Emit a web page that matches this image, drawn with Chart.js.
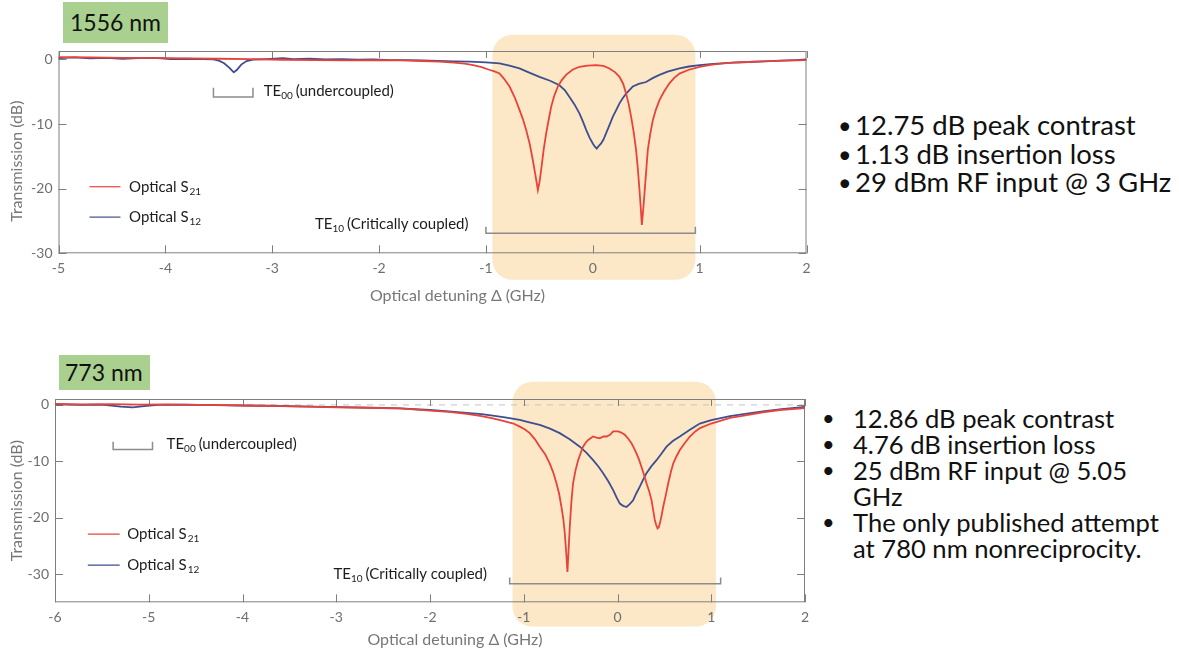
<!DOCTYPE html>
<html>
<head>
<meta charset="utf-8">
<script src="https://cdn.jsdelivr.net/npm/chart.js@4.4.1/dist/chart.umd.min.js"></script>
<style>
  body { margin: 0; width: 1179px; height: 654px; background: #fff; position: relative; overflow: hidden; font-family: Lato, "Noto Sans", sans-serif; }
  canvas { position: absolute; left: 0; }
  .tag { position: absolute; background: #a9d08e; color: #111; font-size: 23px; box-sizing: border-box; white-space: nowrap; }
  .notes { position: absolute; color: #111; white-space: nowrap; }
  .notes p { margin: 0; position: relative; }
  .notes p.b::before { content: "\2022"; position: absolute; font-size: 0.85em; }
  #notesTop p.b::before { left: -17px; }
  #notesBottom p.b::before { left: -31px; }
</style>
</head>
<body>

<div class="tag" style="left:63px; top:2px; width:105px; height:41px; line-height:41px; padding-left:7px;">1556 nm</div>
<canvas id="chartTop" width="820" height="312" style="top:0px;"></canvas>

<div class="tag" style="left:59px; top:355px; width:91px; height:35px; line-height:35px; padding-left:6px;">773 nm</div>
<canvas id="chartBottom" width="820" height="324" style="top:330px;"></canvas>

<div class="notes" id="notesTop" style="left:855px; top:111px; font-size:27.5px; line-height:28.5px;">
  <p class="b">12.75 dB peak contrast</p>
  <p class="b">1.13 dB insertion loss</p>
  <p class="b">29 dBm RF input @ 3 GHz</p>
</div>

<div class="notes" id="notesBottom" style="left:853px; top:405px; font-size:25.6px; line-height:26px;">
  <p class="b">12.86 dB peak contrast</p>
  <p class="b">4.76 dB insertion loss</p>
  <p class="b">25 dBm RF input @ 5.05</p>
  <p>GHz</p>
  <p class="b">The only published attempt</p>
  <p>at 780 nm nonreciprocity.</p>
</div>

<script>
// 1556 nm sweep: detuning (GHz) and transmission (dB)
const topS21X = [-5, -4.7, -4.4, -4.1, -3.8, -3.5, -3.2, -2.9, -2.6, -2.3, -2.0, -1.8, -1.6, -1.43, -1.3, -1.2, -1.12, -1.04, -0.97, -0.92, -0.873, -0.83, -0.779, -0.73, -0.686, -0.655, -0.624, -0.59, -0.561, -0.538, -0.514, -0.498, -0.483, -0.46, -0.436, -0.41, -0.389, -0.36, -0.327, -0.29, -0.25, -0.19, -0.124, -0.05, 0.031, 0.1, 0.156, 0.21, 0.25, 0.285, 0.312, 0.337, 0.359, 0.383, 0.405, 0.422, 0.437, 0.449, 0.459, 0.471, 0.484, 0.5, 0.515, 0.538, 0.562, 0.59, 0.624, 0.67, 0.717, 0.76, 0.811, 0.9, 1.0, 1.1, 1.2, 1.31, 1.45, 1.6, 1.8, 2.0];
const topS21Y = [0.35, 0.3, 0.25, 0.25, 0.15, 0.1, 0.05, -0.05, -0.1, -0.15, -0.1, -0.15, -0.25, -0.35, -0.5, -0.65, -0.9, -1.2, -1.6, -1.85, -2.17, -3.0, -4.2, -5.9, -7.8, -9.2, -10.9, -13.1, -15.6, -17.8, -20.2, -18.9, -17.1, -14.0, -11.4, -9.1, -7.3, -5.6, -4.2, -3.2, -2.4, -1.6, -1.14, -0.95, -0.88, -1.0, -1.4, -2.0, -2.7, -3.8, -5.3, -7.0, -8.9, -11.3, -14.0, -17.0, -20.2, -23.0, -25.6, -23.4, -20.7, -17.2, -14.0, -11.5, -9.4, -7.8, -6.3, -4.9, -3.7, -2.9, -2.2, -1.6, -1.15, -0.85, -0.65, -0.5, -0.4, -0.3, -0.2, -0.1];
const topS12X = [-5, -4.85, -4.7, -4.55, -4.4, -4.25, -4.1, -3.95, -3.8, -3.65, -3.55, -3.5, -3.45, -3.4, -3.36, -3.33, -3.29, -3.24, -3.18, -3.05, -2.9, -2.8, -2.65, -2.5, -2.35, -2.2, -2.05, -1.9, -1.75, -1.6, -1.45, -1.3, -1.15, -1.0, -0.873, -0.78, -0.686, -0.6, -0.499, -0.4, -0.312, -0.26, -0.218, -0.17, -0.124, -0.09, -0.062, -0.03, 0.0, 0.02, 0.037, 0.055, 0.078, 0.1, 0.125, 0.155, 0.187, 0.22, 0.25, 0.28, 0.312, 0.345, 0.374, 0.43, 0.499, 0.56, 0.624, 0.7, 0.811, 0.9, 1.0, 1.1, 1.2, 1.31, 1.45, 1.6, 1.75, 1.9, 2.0];
const topS12Y = [0.2, 0.3, 0.15, 0.25, 0.1, 0.2, 0.25, 0.05, 0.1, 0.05, 0.0, -0.2, -0.6, -1.3, -2.0, -1.6, -0.8, -0.25, -0.05, 0.05, 0.2, 0.05, 0.1, 0.0, 0.05, -0.05, 0.0, -0.1, -0.1, -0.15, -0.25, -0.3, -0.35, -0.45, -0.6, -0.95, -1.4, -2.0, -2.7, -3.3, -4.0, -4.8, -5.8, -7.0, -8.4, -9.7, -10.9, -12.1, -13.0, -13.5, -13.8, -13.4, -13.0, -12.4, -11.4, -10.2, -8.9, -7.8, -6.8, -6.0, -5.3, -4.7, -4.2, -3.8, -3.5, -2.9, -2.4, -1.9, -1.4, -1.1, -0.9, -0.75, -0.6, -0.5, -0.4, -0.3, -0.2, -0.1, 0.0];
const topXTicks = [-5, -4, -3, -2, -1, 0, 1, 2];
const topYTicks = [0, -10, -20, -30];

// 773 nm sweep
const botS21X = [-6, -5.7, -5.4, -5.1, -4.8, -4.5, -4.2, -3.9, -3.6, -3.3, -3.0, -2.7, -2.32, -2.0, -1.8, -1.61, -1.45, -1.33, -1.2, -1.11, -1.043, -0.99, -0.936, -0.88, -0.829, -0.77, -0.722, -0.685, -0.651, -0.622, -0.598, -0.578, -0.562, -0.548, -0.534, -0.522, -0.509, -0.492, -0.474, -0.448, -0.42, -0.39, -0.367, -0.34, -0.313, -0.26, -0.225, -0.189, -0.15, -0.117, -0.08, -0.046, 0.007, 0.04, 0.078, 0.115, 0.149, 0.175, 0.202, 0.23, 0.256, 0.283, 0.309, 0.336, 0.363, 0.38, 0.398, 0.413, 0.427, 0.44, 0.452, 0.47, 0.487, 0.515, 0.541, 0.568, 0.594, 0.63, 0.665, 0.72, 0.772, 0.83, 0.88, 1.0, 1.2, 1.38, 1.55, 1.73, 2.0];
const botS21Y = [0.2, 0.1, 0.15, 0.05, 0.1, 0.0, -0.05, -0.15, -0.2, -0.3, -0.45, -0.5, -0.6, -1.0, -1.25, -1.6, -2.0, -2.4, -2.9, -3.3, -3.85, -4.3, -5.0, -6.1, -7.4, -8.8, -10.4, -12.0, -13.9, -15.8, -18.1, -20.2, -22.8, -26.0, -29.6, -25.8, -21.6, -17.2, -13.9, -11.6, -9.8, -8.4, -7.4, -6.7, -6.2, -5.6, -5.8, -5.9, -5.6, -5.6, -5.3, -4.7, -4.7, -4.9, -5.3, -6.0, -6.8, -7.6, -8.6, -9.7, -11.0, -12.4, -13.9, -15.2, -16.9, -18.6, -20.4, -21.3, -21.9, -21.7, -21.0, -19.6, -18.1, -16.0, -13.9, -12.0, -10.4, -9.1, -8.0, -6.7, -5.6, -4.7, -4.1, -3.3, -2.3, -1.8, -1.3, -0.9, -0.55];
const botS12X = [-6, -5.75, -5.5, -5.3, -5.17, -5.05, -4.9, -4.6, -4.3, -4.0, -3.7, -3.4, -3.1, -2.8, -2.5, -2.32, -2.0, -1.8, -1.61, -1.45, -1.33, -1.2, -1.043, -0.94, -0.829, -0.72, -0.616, -0.51, -0.402, -0.33, -0.26, -0.2, -0.153, -0.1, -0.046, -0.01, 0.025, 0.06, 0.096, 0.13, 0.167, 0.2, 0.238, 0.275, 0.309, 0.36, 0.416, 0.47, 0.523, 0.59, 0.665, 0.772, 0.878, 1.0, 1.2, 1.38, 1.55, 1.75, 2.0];
const botS12Y = [0.1, 0.0, 0.05, -0.3, -0.45, -0.2, 0.0, 0.05, -0.05, -0.1, -0.15, -0.25, -0.35, -0.45, -0.55, -0.6, -0.9, -1.15, -1.4, -1.65, -1.9, -2.2, -2.66, -3.1, -3.55, -4.2, -5.0, -6.1, -7.4, -8.5, -9.8, -11.0, -12.1, -13.5, -15.1, -16.4, -17.5, -17.9, -18.1, -17.6, -16.9, -15.7, -14.5, -13.2, -12.1, -10.9, -9.8, -8.6, -7.4, -6.4, -5.6, -4.4, -3.3, -2.7, -2.0, -1.55, -1.15, -0.75, -0.35];
const botXTicks = [-6, -5, -4, -3, -2, -1, 0, 1, 2];
const botYTicks = [0, -10, -20, -30];

const seriesSubs = ["21", "12"];

const RED = "#e8433a";
const BLUE = "#3d4f8e";
const FRAME = "#7f7f7f";
const LABEL = "#6e6e6e";
const INK = "#1c1c1c";
const FONT = "Lato, 'Noto Sans', sans-serif";

const zip = (xs, ys) => xs.map((x, i) => ({ x: x, y: ys[i] }));

// rounded rectangle path (for the shaded TE10 window)
function roundRectPath(ctx, x, y, w, h, r) {
  ctx.beginPath();
  ctx.moveTo(x + r, y);
  ctx.lineTo(x + w - r, y);
  ctx.arcTo(x + w, y, x + w, y + r, r);
  ctx.lineTo(x + w, y + h - r);
  ctx.arcTo(x + w, y + h, x + w - r, y + h, r);
  ctx.lineTo(x + r, y + h);
  ctx.arcTo(x, y + h, x, y + h - r, r);
  ctx.lineTo(x, y + r);
  ctx.arcTo(x, y, x + r, y, r);
  ctx.closePath();
}

// writes text pieces left to right, some of them as subscripts
function drawParts(ctx, parts, x, y) {
  ctx.textBaseline = "middle";
  ctx.textAlign = "left";
  parts.forEach((p) => {
    ctx.font = p.sub ? "10px " + FONT : "15px " + FONT;
    const dy = p.sub ? 5 : 0;
    ctx.fillText(p.t, x, y + dy);
    x += ctx.measureText(p.t).width + (p.gap || 0);
  });
}

// frame, inward ticks, shaded window, brackets, legend and axis titles
function makeDecor(cfg) {
  return {
    id: "decor",
    beforeDraw(chart) {
      const { ctx, chartArea: a, scales: { x, y } } = chart;
      const hb = cfg.highlight;
      const l = x.getPixelForValue(hb.x0), r = x.getPixelForValue(hb.x1);
      const t = y.getPixelForValue(hb.y0), b = y.getPixelForValue(hb.y1);
      ctx.save();
      ctx.fillStyle = "#fce7c7";
      roundRectPath(ctx, l, t, r - l, b - t, 20);
      ctx.fill();
      if (cfg.zeroLine) {
        const y0 = y.getPixelForValue(0);
        ctx.strokeStyle = "#c4c4c4";
        ctx.lineWidth = 1;
        ctx.setLineDash([6, 6]);
        ctx.beginPath();
        ctx.moveTo(a.left, y0);
        ctx.lineTo(a.right, y0);
        ctx.stroke();
      }
      ctx.restore();
    },
    beforeDatasetsDraw(chart) {
      const { ctx, chartArea: a, scales: { x, y } } = chart;
      ctx.save();
      ctx.strokeStyle = FRAME;
      ctx.lineWidth = 1;
      ctx.strokeRect(a.left + 0.5, a.top + 0.5, a.right - a.left - 1, a.bottom - a.top - 1);
      ctx.beginPath();
      x.ticks.forEach((tk) => {
        const px = Math.round(x.getPixelForValue(tk.value)) + 0.5;
        ctx.moveTo(px, a.bottom);
        ctx.lineTo(px, a.bottom - 8);
        ctx.moveTo(px, a.top);
        ctx.lineTo(px, a.top + 7);
      });
      y.ticks.forEach((tk) => {
        const py = Math.round(y.getPixelForValue(tk.value)) + 0.5;
        ctx.moveTo(a.left, py);
        ctx.lineTo(a.left + 8, py);
        ctx.moveTo(a.right, py);
        ctx.lineTo(a.right - 8, py);
      });
      ctx.stroke();
      ctx.restore();
    },
    afterDatasetsDraw(chart) {
      const { ctx, chartArea: a, scales: { x, y } } = chart;
      ctx.save();
      // mode brackets
      ctx.strokeStyle = "#8c8c8c";
      ctx.lineWidth = 1.5;
      cfg.brackets.forEach((bk) => {
        const l = x.getPixelForValue(bk.x0), r = x.getPixelForValue(bk.x1);
        const yb = y.getPixelForValue(bk.y), yt = y.getPixelForValue(bk.y + bk.h);
        ctx.beginPath();
        ctx.moveTo(l, yt);
        ctx.lineTo(l, yb);
        ctx.lineTo(r, yb);
        ctx.lineTo(r, yt);
        ctx.stroke();
      });
      ctx.fillStyle = INK;
      cfg.labels.forEach((lb) => {
        drawParts(ctx, lb.parts, x.getPixelForValue(lb.x), y.getPixelForValue(lb.y));
      });
      // legend
      const lg = cfg.legend;
      chart.data.datasets.forEach((ds, i) => {
        const py = y.getPixelForValue(lg.y[i]);
        ctx.strokeStyle = ds.borderColor;
        ctx.lineWidth = 1.2;
        ctx.beginPath();
        ctx.moveTo(x.getPixelForValue(lg.x0), py);
        ctx.lineTo(x.getPixelForValue(lg.x1), py);
        ctx.stroke();
        ctx.fillStyle = INK;
        drawParts(ctx, [{ t: "Optical S", gap: 1 }, { t: seriesSubs[i], sub: true }], x.getPixelForValue(lg.tx), py);
      });
      // axis titles
      ctx.fillStyle = "#777";
      ctx.font = "16px " + FONT;
      ctx.textAlign = "center";
      ctx.textBaseline = "middle";
      ctx.fillText("Optical detuning \u0394 (GHz)", (a.left + a.right) / 2 + 25, a.bottom + cfg.xTitleDrop);
      ctx.translate(17, (a.top + a.bottom) / 2 + cfg.yTitleShift);
      ctx.rotate(-Math.PI / 2);
      ctx.fillText("Transmission (dB)", 0, 0);
      ctx.restore();
    }
  };
}

function buildChart(canvasId, cfg) {
  const tickFont = { family: FONT, size: 14 };
  return new Chart(document.getElementById(canvasId), {
    type: "line",
    data: {
      datasets: [
        { label: "Optical S21", data: zip(cfg.s21x, cfg.s21y), borderColor: RED },
        { label: "Optical S12", data: zip(cfg.s12x, cfg.s12y), borderColor: BLUE }
      ]
    },
    options: {
      responsive: false,
      animation: false,
      events: [],
      elements: { point: { radius: 0 }, line: { borderWidth: 1.8, tension: 0 } },
      layout: { padding: cfg.padding },
      plugins: { legend: { display: false }, tooltip: { enabled: false } },
      scales: {
        x: {
          type: "linear",
          min: cfg.xTicks[0],
          max: cfg.xTicks[cfg.xTicks.length - 1],
          afterBuildTicks: (s) => { s.ticks = cfg.xTicks.map((v) => ({ value: v })); },
          afterFit: (s) => { s.height = cfg.xAxisHeight; },
          grid: { display: false, drawTicks: false },
          border: { display: false },
          ticks: { color: LABEL, font: tickFont, padding: 7, maxRotation: 0 }
        },
        y: {
          min: cfg.yMin,
          max: cfg.yMax,
          afterBuildTicks: (s) => { s.ticks = cfg.yTicks.map((v) => ({ value: v })); },
          afterFit: (s) => { s.width = cfg.yAxisWidth; },
          grid: { display: false, drawTicks: false },
          border: { display: false },
          ticks: { color: LABEL, font: tickFont, padding: 6 }
        }
      }
    },
    plugins: [makeDecor(cfg)]
  });
}

const te = (n, rest) => [{ t: "TE" }, { t: n, sub: true, gap: 3 }, { t: rest }];

buildChart("chartTop", {
  s21x: topS21X, s21y: topS21Y, s12x: topS12X, s12y: topS12Y,
  xTicks: topXTicks, yTicks: topYTicks, yMin: -30, yMax: 1.3,
  padding: { left: 0, top: 51, right: 13.5, bottom: 0 },
  yAxisWidth: 58.5, xAxisHeight: 58.7,
  xTitleDrop: 43, yTitleShift: 9,
  highlight: { x0: -0.94, x1: 0.96, y0: 3.8, y1: -34.1 },
  zeroLine: false,
  brackets: [
    { x0: -3.55, x1: -3.18, y: -5.8, h: 1.4 },
    { x0: -1.0, x1: 0.96, y: -26.9, h: 1.0 }
  ],
  labels: [
    { x: -3.08, y: -4.85, parts: te("00", "(undercoupled)") },
    { x: -2.6, y: -25.5, parts: te("10", "(Critically coupled)") }
  ],
  legend: { x0: -4.71, x1: -4.42, tx: -4.34, y: [-19.7, -24.4] }
});

buildChart("chartBottom", {
  s21x: botS21X, s21y: botS21Y, s12x: botS12X, s12y: botS12Y,
  xTicks: botXTicks, yTicks: botYTicks, yMin: -35, yMax: 1.05,
  padding: { left: 0, top: 69, right: 15, bottom: 0 },
  yAxisWidth: 55, xAxisHeight: 51.7,
  xTitleDrop: 38, yTitleShift: 0,
  highlight: { x0: -1.12, x1: 1.05, y0: 4.1, y1: -39.3 },
  zeroLine: true,
  brackets: [
    { x0: -5.38, x1: -4.96, y: -7.9, h: 1.35 },
    { x0: -1.15, x1: 1.1, y: -31.7, h: 1.1 }
  ],
  labels: [
    { x: -4.81, y: -6.9, parts: te("00", "(undercoupled)") },
    { x: -3.03, y: -30.0, parts: te("10", "(Critically coupled)") }
  ],
  legend: { x0: -5.65, x1: -5.31, tx: -5.23, y: [-22.9, -28.4] }
});
</script>
</body>
</html>
